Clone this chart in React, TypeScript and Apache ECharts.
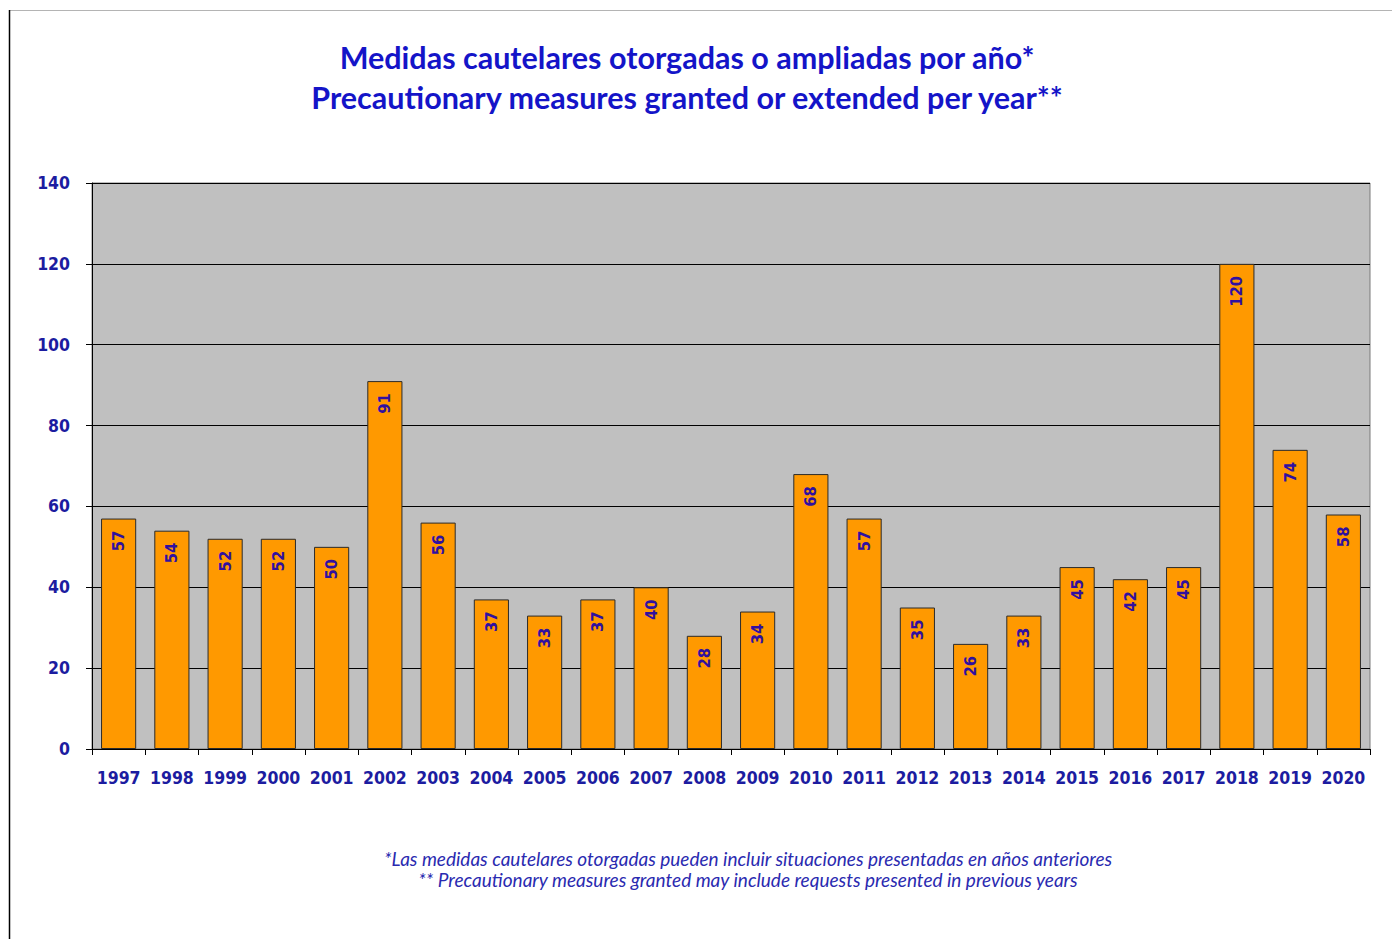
import React, { useEffect, useRef } from "react";
import * as echarts from "echarts";

const years = ["1997","1998","1999","2000","2001","2002","2003","2004","2005","2006","2007","2008","2009","2010","2011","2012","2013","2014","2015","2016","2017","2018","2019","2020"];
const measures = [57,54,52,52,50,91,56,37,33,37,40,28,34,68,57,35,26,33,45,42,45,120,74,58];
const titleLines = ["Medidas cautelares otorgadas o ampliadas por año*", "Precautionary measures granted or extended per year**"];
const footnoteLines = ["*Las medidas cautelares otorgadas pueden incluir situaciones presentadas en años anteriores", "** Precautionary measures granted may include requests presented in previous years"];

const axisFont = "'DejaVu Sans Condensed', 'DejaVu Sans', sans-serif";

export default function App() {
  const ref = useRef<HTMLDivElement>(null);
  useEffect(() => {
    if (!ref.current) return;
    const chart = echarts.init(ref.current, null, { renderer: "svg" });
    chart.setOption({
      animation: false,
      backgroundColor: "#ffffff",
      title: {
        text: titleLines.join("\n"),
        left: 682,
        top: 32,
        textAlign: "center",
        textStyle: {
          fontFamily: "Lato, 'Open Sans', sans-serif",
          fontWeight: "bold",
          fontSize: 30.5,
          lineHeight: 40,
          color: "#1414C8",
        },
      },
      grid: {
        left: 92,
        right: 22,
        top: 183,
        bottom: 190,
        show: true,
        backgroundColor: "#C0C0C0",
        borderColor: "#7a7a7a",
        borderWidth: 1,
      },
      xAxis: {
        type: "category",
        data: years,
        axisLine: { lineStyle: { color: "#000", width: 1 } },
        axisTick: { show: true, length: 6, lineStyle: { color: "#000" } },
        axisLabel: {
          interval: 0,
          hideOverlap: false,
          margin: 20,
          fontFamily: axisFont,
          fontWeight: "bold",
          fontSize: 17.5,
          color: "#1C1CA0",
        },
      },
      yAxis: {
        type: "value",
        min: 0,
        max: 140,
        interval: 20,
        axisLine: { show: true, lineStyle: { color: "#000", width: 1 } },
        axisTick: { show: true, length: 6, lineStyle: { color: "#000" } },
        splitLine: { show: true, lineStyle: { color: "#000", width: 1 } },
        axisLabel: {
          margin: 22,
          fontFamily: axisFont,
          fontWeight: "bold",
          fontSize: 17.5,
          color: "#1C1CA0",
        },
      },
      series: [
        {
          type: "bar",
          data: measures,
          barCategoryGap: "34%",
          itemStyle: { color: "#FF9900", borderColor: "#2a2a2a", borderWidth: 1 },
          label: {
            show: true,
            position: "insideTop",
            distance: 12,
            rotate: 90,
            align: "right",
            verticalAlign: "middle",
            fontFamily: axisFont,
            fontWeight: "bold",
            fontSize: 16.5,
            color: "#3010A0",
          },
        },
      ],
      graphic: [
        {
          type: "line",
          shape: { x1: 9, y1: 10.5, x2: 1392, y2: 10.5 },
          style: { stroke: "#b4b4b4", lineWidth: 1 },
        },
        {
          type: "line",
          shape: { x1: 9.5, y1: 10, x2: 9.5, y2: 939 },
          style: { stroke: "#000", lineWidth: 1.5 },
        },
        {
          type: "text",
          x: 748,
          y: 858.5,
          style: {
            text: footnoteLines[0],
            textAlign: "center",
            textVerticalAlign: "middle",
            fontFamily: "Lato, 'Open Sans', sans-serif",
            fontStyle: "italic",
            fontSize: 19,
            fill: "#2A2AB0",
          },
        },
        {
          type: "text",
          x: 748,
          y: 879.5,
          style: {
            text: footnoteLines[1],
            textAlign: "center",
            textVerticalAlign: "middle",
            fontFamily: "Lato, 'Open Sans', sans-serif",
            fontStyle: "italic",
            fontSize: 19,
            fill: "#2A2AB0",
          },
        },
      ],
    });
    return () => chart.dispose();
  }, []);
  return (
    <div
      ref={ref}
      style={{ position: "fixed", left: 0, top: 0, width: 1392, height: 939 }}
    />
  );
}
